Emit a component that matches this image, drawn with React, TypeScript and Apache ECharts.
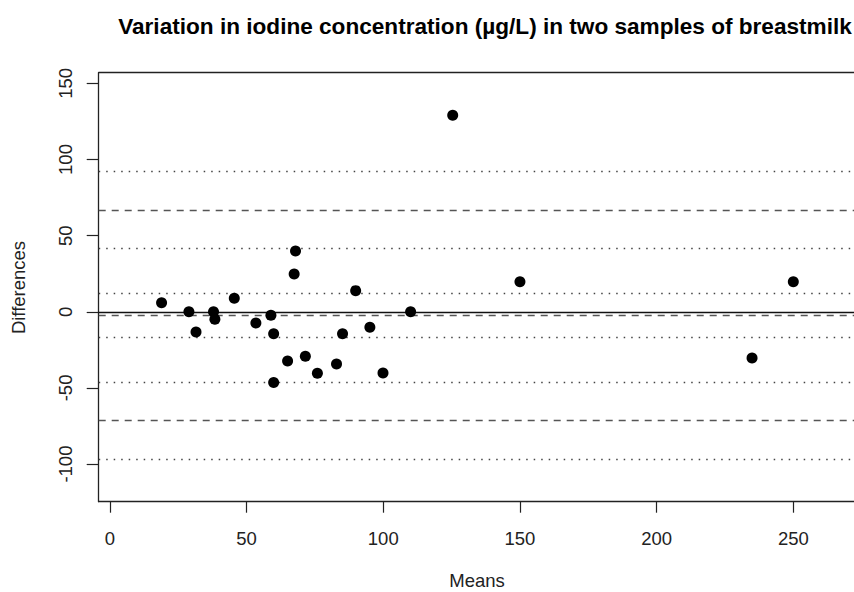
import React, { useEffect, useRef } from "react";
import * as echarts from "echarts";

const means = [18.9, 28.9, 31.5, 37.9, 38.4, 45.5, 53.4, 58.9, 59.9, 59.9, 65.0, 67.4, 67.9, 71.5, 75.9, 82.9, 85.1, 89.9, 95.1, 99.9, 110.0, 125.4, 150.0, 234.9, 250.0];
const diffs = [6.0, 0, -13.3, 0, -4.9, 8.9, -7.4, -2.3, -14.4, -46.5, -32.3, 24.8, 39.9, -29.2, -40.4, -34.3, -14.4, 13.9, -10.2, -40.2, 0, 129.0, 19.8, -30.3, 19.8];
const meanDiff = [-2.3];
const limitsOfAgreement = [67.0, -71.5];
const confidenceLimits = [92.4, 41.7, 12.3, -17.0, -46.3, -96.9];
const zeroLine = [0];
const xTicks = [0, 50, 100, 150, 200, 250];
const yTicks = [-100, -50, 0, 50, 100, 150];

const FONT = "'Liberation Sans', Arial, Helvetica, sans-serif";

export default function App() {
  const ref = useRef<HTMLDivElement>(null);
  useEffect(() => {
    if (!ref.current) return;
    const chart = echarts.init(ref.current, null, { renderer: "svg" });
    const points = means.map((m, i) => [m, diffs[i]]);
    const hLine = (v: number, type: any, color: string, width: number) => ({
      yAxis: v,
      lineStyle: { type, color, width },
    });
    chart.setOption({
      animation: false,
      backgroundColor: "#ffffff",
      grid: { left: 98.7, right: 0, top: 72.7, bottom: 90.3, containLabel: false },
      xAxis: [
        {
          type: "value",
          min: -4.1,
          max: 272.2,
          position: "bottom",
          axisLine: { show: true, onZero: false, lineStyle: { color: "#222", width: 1.3 } },
          axisTick: { show: true, length: 11, lineStyle: { color: "#222", width: 1.2 }, customValues: xTicks },
          axisLabel: { show: true, customValues: xTicks, margin: 27, fontSize: 18.5, color: "#222", fontFamily: FONT },
          splitLine: { show: false },
        },
        {
          type: "value",
          min: -4.1,
          max: 272.2,
          position: "top",
          axisLine: { show: true, onZero: false, lineStyle: { color: "#222", width: 1.3 } },
          axisTick: { show: false },
          axisLabel: { show: false },
          splitLine: { show: false },
        },
      ],
      yAxis: {
        type: "value",
        min: -124.7,
        max: 157.0,
        axisLine: { show: true, onZero: false, lineStyle: { color: "#222", width: 1.3 } },
        axisTick: { show: true, length: 12, lineStyle: { color: "#222", width: 1.2 }, customValues: yTicks },
        axisLabel: { show: true, customValues: yTicks, rotate: 90, margin: 24, fontSize: 18.5, color: "#222", fontFamily: FONT },
        splitLine: { show: false },
      },
      graphic: [
        {
          type: "text",
          x: 485,
          y: 26,
          style: {
            text: "Variation in iodine concentration (µg/L) in two samples of breastmilk",
            fontSize: 22.6,
            fontWeight: "bold",
            fontFamily: FONT,
            fill: "#000",
            textAlign: "center",
            textVerticalAlign: "middle",
          },
        },
        {
          type: "text",
          x: 477,
          y: 580,
          style: {
            text: "Means",
            fontSize: 18.5,
            fontFamily: FONT,
            fill: "#222",
            textAlign: "center",
            textVerticalAlign: "middle",
          },
        },
        {
          type: "text",
          x: 18,
          y: 287.5,
          rotation: Math.PI / 2,
          style: {
            text: "Differences",
            fontSize: 18.5,
            fontFamily: FONT,
            fill: "#222",
            textAlign: "center",
            textVerticalAlign: "middle",
          },
        },
      ],
      series: [
        {
          type: "scatter",
          data: points,
          symbol: "circle",
          symbolSize: 11,
          itemStyle: { color: "#000", opacity: 1 },
          z: 5,
          markLine: {
            silent: true,
            symbol: "none",
            label: { show: false },
            z: 2,
            data: [
              ...zeroLine.map((v) => hLine(v, "solid", "#111", 1.3)),
              ...meanDiff.map((v) => hLine(v, [7, 6], "#555", 1.3)),
              ...limitsOfAgreement.map((v) => hLine(v, [7, 6], "#555", 1.3)),
              ...confidenceLimits.map((v) => hLine(v, [1.5, 6], "#444", 1.3)),
            ],
          },
        },
      ],
    });
    return () => chart.dispose();
  }, []);
  return (
    <div
      ref={ref}
      style={{ position: "fixed", left: 0, top: 0, width: 854, height: 592, background: "#fff" }}
    />
  );
}
